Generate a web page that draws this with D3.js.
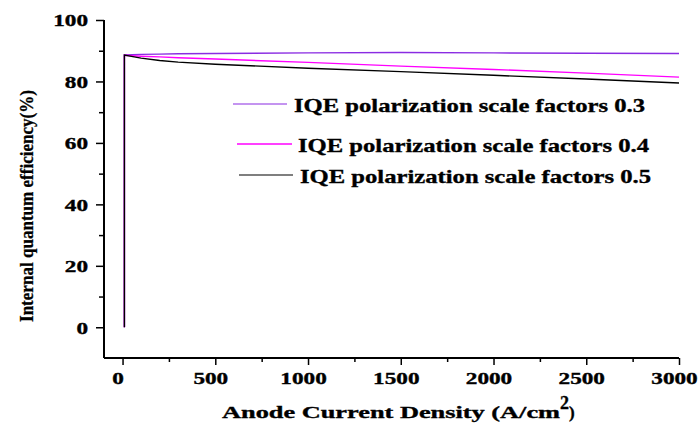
<!DOCTYPE html>
<html><head><meta charset="utf-8">
<script src="https://cdn.jsdelivr.net/npm/d3@7"></script>
<style>body{margin:0;background:#fff}svg{display:block}</style>
</head><body>
<svg id="c" width="700" height="425"></svg>
<script>
const xValues = [0, 10, 100, 200, 300, 500, 1000, 1500, 2000, 2500, 3000];
const seriesNames = ["IQE polarization scale factors 0.3","IQE polarization scale factors 0.4","IQE polarization scale factors 0.5"];
const iqe03 = [0, 88.6, 88.8, 88.9, 89.0, 89.1, 89.3, 89.4, 89.3, 89.2, 89.1];
const iqe04 = [0, 88.5, 88.2, 88.0, 87.7, 87.3, 86.2, 85.0, 83.9, 82.7, 81.4];
const iqe05 = [0, 88.6, 87.6, 86.8, 86.3, 85.6, 84.3, 83.2, 82.0, 80.8, 79.5];
const colors = ["#8a2be2", "#ff00ff", "#000000"];
const xTicks = [0, 500, 1000, 1500, 2000, 2500, 3000];
const yTicks = [0, 20, 40, 60, 80, 100];
const xVals = xValues.map((v,i)=> i===0 ? 10 : v);
const FONT = "'Liberation Serif'";
const SX = 1.45;

const svg = d3.select("#c");
const x = d3.scaleLinear().domain([-100, 3000]).range([104, 679]);
const y = d3.scaleLinear().domain([-10, 100]).range([358, 20]);

// lines
const series = [iqe03, iqe04, iqe05];
const line = d3.line().x((d,i)=>x(xVals[i])).y(d=>y(d));
series.forEach((s,k)=>{
  svg.append("path").datum(s).attr("d", line).attr("fill","none")
    .attr("stroke", colors[k]).attr("stroke-width", 1.4);
});

// axes
const gx = svg.append("g").attr("transform","translate(0,358)");
gx.call(d3.axisBottom(x).tickValues(xTicks).tickSize(7).tickPadding(8).tickFormat(d3.format("d")));
gx.append("g").call(d3.axisBottom(x).tickValues(d3.range(250, 3000, 500)).tickSize(4).tickFormat(""));
const gy = svg.append("g").attr("transform","translate(104,0)");
gy.call(d3.axisLeft(y).tickValues(yTicks).tickSize(8).tickPadding(8).tickFormat(d3.format("d")));
gy.append("g").call(d3.axisLeft(y).tickValues(d3.range(-10, 100, 20).filter(v=>v>-10)).tickSize(5).tickFormat(""));
svg.selectAll("g").attr("font-family", null);
svg.selectAll(".domain").attr("stroke","#000").attr("stroke-width",2);
svg.selectAll(".tick line").attr("stroke","#000").attr("stroke-width",1.5);
svg.selectAll(".tick text")
  .style("font-family",FONT).style("font-weight","bold").style("font-size","16px")
  .attr("fill","#000").attr("stroke","#000").attr("stroke-width",0.35);
gx.selectAll(".tick text").attr("x",-5/SX).attr("y",15).attr("dy","0.71em").attr("transform",`scale(${SX},1)`);
gy.selectAll(".tick text").attr("x",-16/SX).attr("dy","0.36em").attr("transform",`scale(${SX},1)`);
gx.selectAll(".domain").attr("d","M104,0H679");
gy.selectAll(".domain").attr("d","M0,20V358");

// axis titles
svg.append("text").attr("transform","translate(33,206) rotate(-90)")
  .attr("text-anchor","middle").style("font-family",FONT).style("font-weight","bold").style("font-size","19px")
  .attr("stroke","#000").attr("stroke-width",0.3)
  .attr("textLength",232).attr("lengthAdjust","spacingAndGlyphs")
  .text("Internal quantum efficiency(%)");
const xt = svg.append("text").attr("x",222).attr("y",418)
  .style("font-family",FONT).style("font-weight","bold").style("font-size","17px")
  .attr("stroke","#000").attr("stroke-width",0.35);
xt.append("tspan").attr("textLength",338).attr("lengthAdjust","spacingAndGlyphs").text("Anode Current Density (A/cm");
xt.append("tspan").attr("dy",-9).style("font-size","18px").text("2");
xt.append("tspan").attr("dy",9).text(")");

// legend
const leg = [{x1:233,x2:287,y:104,tx:294},{x1:237,x2:292,y:144,tx:298},{x1:239,x2:293,y:175,tx:300}];
leg.forEach((l,k)=>{
  svg.append("line").attr("x1",l.x1).attr("x2",l.x2).attr("y1",l.y).attr("y2",l.y)
    .attr("stroke",colors[k]).attr("stroke-width",k===1?1.6:1.1);
  svg.append("text").attr("x",l.tx).attr("y",l.y+8)
    .style("font-family",FONT).style("font-weight","bold").style("font-size","19px")
    .attr("stroke","#000").attr("stroke-width",0.35)
    .attr("textLength",351).attr("lengthAdjust","spacingAndGlyphs").text(seriesNames[k]);
});
</script>
</body></html>
